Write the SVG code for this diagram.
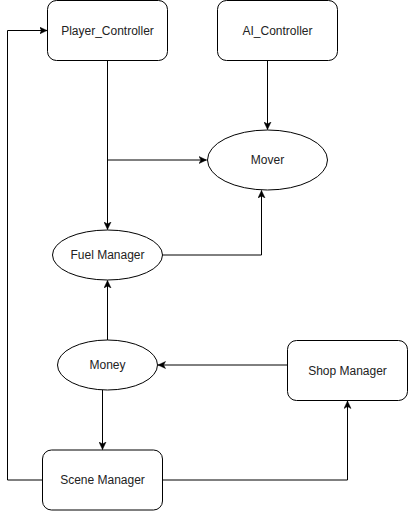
<svg xmlns="http://www.w3.org/2000/svg" width="408" height="511" viewBox="0 0 408 511">
<style>
.box{fill:#fff;stroke:#000;stroke-width:1}
.lbl{font-family:"Liberation Sans",Arial,sans-serif;font-size:12px;fill:#222;text-anchor:middle;dominant-baseline:central}
.edge{fill:none;stroke:#000;stroke-width:1;marker-end:url(#arr)}
</style>
<defs>
<marker id="arr" viewBox="0 0 8 8" markerWidth="8" markerHeight="8" refX="7.5" refY="4" orient="auto" markerUnits="userSpaceOnUse">
<path d="M0,0.5 L7.5,4 L0,7.5 L2,4 Z" fill="#000" stroke="#000" stroke-width="0.5"/>
</marker>
</defs>
<rect width="408" height="511" fill="#fff"/>
<g id="connectors">
<path class="edge" d="M107.5,60.5 V229.5"/>
<path class="edge" d="M107.5,160 H206.5"/>
<path class="edge" d="M267.5,60.5 V129.5"/>
<path class="edge" d="M162.5,255 H261.5 V190.5"/>
<path class="edge" d="M107.5,340 V280.5"/>
<path class="edge" d="M102.5,390 V449.5"/>
<path class="edge" d="M287.5,365 H158"/>
<path class="edge" d="M162.5,480 H347.5 V401"/>
<path class="edge" d="M42.5,480 H7.5 V30.5 H47"/>
</g>
<g id="player_controller"><rect class="box" x="47.5" y="0.5" width="120" height="60" rx="9"/><text class="lbl" x="107.5" y="30.5">Player_Controller</text></g>
<g id="ai_controller"><rect class="box" x="217.5" y="0.5" width="120" height="60" rx="9"/><text class="lbl" x="277.5" y="30.5">AI_Controller</text></g>
<g id="mover"><ellipse class="box" cx="267.5" cy="160" rx="60" ry="30"/><text class="lbl" x="267.5" y="160">Mover</text></g>
<g id="fuel_manager"><ellipse class="box" cx="107.5" cy="255" rx="55" ry="25"/><text class="lbl" x="107.5" y="255">Fuel Manager</text></g>
<g id="money"><ellipse class="box" cx="107.5" cy="365" rx="50" ry="25"/><text class="lbl" x="107.5" y="365">Money</text></g>
<g id="shop_manager"><rect class="box" x="287.5" y="340.5" width="120" height="60" rx="9"/><text class="lbl" x="347.5" y="370.5">Shop Manager</text></g>
<g id="scene_manager"><rect class="box" x="42.5" y="450" width="120" height="60" rx="9"/><text class="lbl" x="102.5" y="480">Scene Manager</text></g>
</svg>
